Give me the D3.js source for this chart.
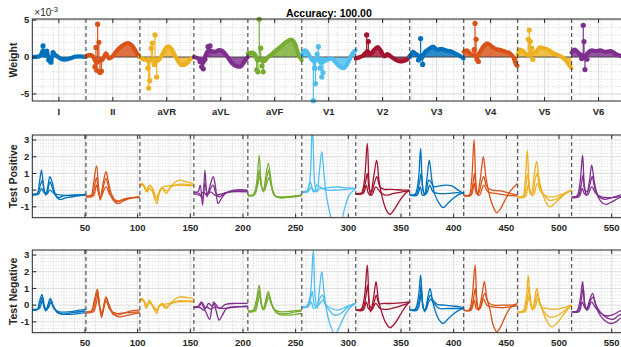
<!DOCTYPE html>
<html>
<head>
<meta charset="utf-8">
<script src="https://cdn.jsdelivr.net/npm/d3@7"></script>
<style>
  html, body { margin: 0; padding: 0; background: #fff; overflow: hidden; }
  svg { display: block; font-family: "Liberation Sans", Arial, Helvetica, sans-serif; }
</style>
</head>
<body>
<svg id="chart" width="621" height="347"></svg>
<script>
// ---- data ----
const leads = ["I", "II", "aVR", "aVL", "aVF", "V1", "V2", "V3", "V4", "V5", "V6"];
const xTicks = [50, 100, 150, 200, 250, 300, 350, 400, 450, 500, 550];
const weightTicks = [-5, 0, 5];
const testTicks = [-1, 0, 1, 2, 3];

// weight (x1e-3): smooth part, [sample offset in lead, value]
const weightCurve = [
  [[0,0],[6,0.05],[8.5,0.3],[10.5,0.9],[12,0.2],[14,0.7],[16,-0.3],[18,-0.6],[20,0.5],[23,0.2],[27,-0.2],[31,-0.35],[36,-0.2],[41,0.05],[46,0.1],[51,0]],
  [[0,0.1],[3,0.3],[6,0.2],[8,-0.3],[10,-0.8],[12,-0.6],[14,-0.5],[16,-0.3],[19,0.5],[22,-0.2],[25,0.05],[29,0.8],[34,1.5],[40,1.9],[44,1.5],[48,0.6],[51,0]],
  [[0,0],[3,-0.3],[6,-0.4],[9,-0.6],[12,-0.3],[15,-0.6],[18,-0.4],[21,0.3],[25,1.3],[27,1.45],[30,1.1],[34,0],[38,-0.9],[40,-1.1],[44,-0.9],[48,-0.3],[51,0]],
  [[0,0],[4,-0.2],[7,-0.6],[9,-0.8],[11,0.2],[14,0.9],[17,0.8],[20,0.7],[24,0.95],[27,0.8],[32,0],[36,-0.8],[40,-1.2],[44,-1.3],[48,-0.6],[51,0]],
  [[0,0.5],[4,0.6],[7,0.3],[9,-0.5],[12,-0.4],[15,-0.6],[17,-0.4],[19,0],[22,0.3],[26,0.8],[32,1.5],[37,2.1],[41,2.35],[45,1.7],[48,0.4],[51,-0.4]],
  [[0,0.3],[3,0.9],[6,0.5],[9,-0.3],[12,-0.6],[15,-0.2],[18,-0.8],[21,-0.6],[24,-0.4],[28,-0.2],[32,-0.7],[36,-1.3],[39,-1.5],[42,-1.2],[45,-0.4],[48,0.5],[51,0.9]],
  [[0,-0.2],[4,0],[8,0.3],[11,0.8],[14,0.4],[17,0.9],[21,1.35],[24,0.8],[27,0.1],[30,0.4],[33,0.1],[37,-0.3],[42,-0.6],[46,-0.5],[49,-0.3],[51,0.1]],
  [[0,0],[3,0.7],[6,0.4],[8,0.2],[11,-0.2],[14,0.6],[17,0.95],[22,1.4],[26,1.0],[30,1.1],[34,0.9],[38,0.8],[43,0.5],[47,0.2],[51,-0.2]],
  [[0,0.7],[3,0.9],[6,0.5],[9,0.3],[12,0.1],[15,0.6],[19,1.5],[22,1.85],[26,1.5],[30,1.1],[35,0.95],[40,0.7],[44,0.5],[47,0],[50,-1.1],[51,-1.2]],
  [[0,0.3],[2,1.0],[5,0.8],[8,0.4],[11,0.3],[14,0.5],[18,0.8],[21,1.3],[25,1.2],[30,0.9],[34,0.5],[38,0.3],[42,0],[46,-0.5],[49,-1.1],[51,-1.5]],
  [[0,0.6],[3,1.0],[6,0.6],[9,0.2],[12,0],[15,0.5],[19,0.9],[23,0.8],[27,0.9],[32,0.7],[37,0.8],[42,0.4],[47,0.1],[51,-0.4]]
];
// weight (x1e-3): separate stems with markers
const weightStems = [
  [[10.5,1.5],[14,0.8],[16,-0.4],[18,-0.7],[20,0.6]],
  [[8.5,-1.3],[9.5,1.3],[10.2,-1.8],[11.1,4.45],[12.3,2.0],[13.3,-2.1],[14.7,-1.9]],
  [[7.5,-1.5],[8.3,-4.2],[9.3,-3.2],[10.8,1.2],[11.8,1.9],[13.5,-1.0],[14.3,3.0],[15.9,-2.7]],
  [[5.8,-0.6],[7.4,-1.3],[8.9,-1.6],[10.5,-0.3],[13.4,1.4],[15.3,1.5]],
  [[8.4,-1.75],[9.6,-2.0],[10.8,5.1],[12.2,1.2],[13.4,-1.2],[14.6,-2.0]],
  [[10.9,-5.9],[12.2,-1.5],[12.9,-3.6],[14.5,0.4],[15.7,1.4],[17.3,-1.5],[18.9,-2.7],[20.1,-2.1]],
  [[8.7,0.4],[10.3,3.0],[11.9,2.1]],
  [[8.3,-0.4],[10.3,2.5],[11.3,0.2],[12.2,-1.0]],
  [[9.8,1.0],[10.7,4.55],[11.7,2.4],[12.6,-0.3],[13.9,-0.6]],
  [[10,2.4],[11,3.65],[12,2.1],[13.3,1.2],[14.3,-0.3]],
  [[8.5,0.3],[9.5,-0.2],[11,4.3],[11.7,2.1],[12.6,-1.7],[14.5,-0.3]]
];

// test positive: three beats per lead, [sample offset, value]
const testPositive = [
  [[[0,-0.25],[5,-0.2],[7,0.4],[9,1.2],[11,0.2],[13,-0.3],[15,0.2],[17,0.8],[19,0.5],[22,-0.2],[25,-0.45],[30,-0.35],[40,-0.3],[51,-0.3]],
   [[0,-0.25],[5,-0.2],[8,0.3],[10,0.6],[12,-0.1],[14,-0.2],[17,0.5],[19,0.2],[22,-0.3],[26,-0.55],[33,-0.45],[42,-0.35],[51,-0.3]],
   [[0,-0.3],[6,-0.25],[9,0.1],[11,-0.1],[14,-0.25],[17,0],[21,-0.2],[28,-0.3],[51,-0.25]]],
  [[[0,-0.35],[5,-0.3],[7,0.3],[10,1.45],[12,0.2],[13.5,-0.6],[16,0.3],[19,1.1],[21,0.6],[24,-0.2],[29,-0.7],[35,-0.55],[43,-0.45],[51,-0.4]],
   [[0,-0.35],[6,-0.3],[8,0.2],[10,0.75],[12,-0.2],[14,-0.5],[16.5,0.2],[19,0.7],[21,0.3],[24,-0.4],[30,-0.8],[37,-0.6],[45,-0.45],[51,-0.45]],
   [[0,-0.4],[7,-0.35],[10,0.3],[12,-0.1],[14,-0.4],[19,0.2],[23,-0.3],[30,-0.65],[40,-0.5],[51,-0.4]]],
  [[[0,0.4],[3,0.35],[6,-0.1],[9,0.3],[11,0.2],[13,-0.3],[16,-0.8],[18,-0.3],[21,0.1],[25,-0.2],[29,0.2],[34,0.5],[38,0.6],[44,0.5],[51,0.4]],
   [[0,0.35],[3,0.3],[6,0],[9,0.25],[12,0.1],[16,-0.6],[18,-0.2],[21,0.15],[25,-0.05],[30,0.2],[36,0.35],[44,0.35],[51,0.3]],
   [[0,0.3],[4,0.25],[7,-0.1],[9,0.1],[12,-0.1],[16,-0.4],[19,0],[22,0.2],[27,0.25],[35,0.3],[51,0.25]]],
  [[[0,-0.1],[4,-0.1],[6,0.3],[8.3,-0.9],[10.5,1.2],[12.5,-0.4],[15,0.2],[18.4,0.8],[20.5,0.2],[23,-0.8],[26,-0.5],[30,-0.2],[38,0],[51,0]],
   [[0,-0.15],[5,-0.2],[8,-0.5],[10.5,0.4],[13,-0.2],[18,0.3],[21,-0.2],[24,-0.4],[30,-0.15],[40,-0.05],[51,-0.05]],
   [[0,-0.2],[6,-0.3],[9,-0.1],[12,-0.3],[16,-0.1],[20,-0.3],[25,-0.25],[35,-0.1],[51,-0.1]]],
  [[[0,-0.3],[5,-0.3],[8,0.3],[10.8,2.1],[12.5,0.5],[14.6,-0.1],[17,0.8],[19.4,1.6],[22,0.6],[25,-0.3],[30,-0.45],[40,-0.4],[51,-0.3]],
   [[0,-0.3],[6,-0.25],[9,0.4],[11,1.2],[13,0.2],[15,0],[17.5,0.6],[19.8,1.2],[22,0.3],[26,-0.35],[34,-0.4],[45,-0.35],[51,-0.3]],
   [[0,-0.35],[6,-0.3],[9,0.2],[11.3,0.8],[13.5,0.1],[15.5,-0.05],[18,0.4],[20.2,0.75],[23,0.1],[27,-0.4],[36,-0.45],[51,-0.35]]],
  [[[0,-0.1],[4,-0.1],[7,0.3],[10,4.0],[12.5,0.3],[14.5,-0.1],[16.5,1.0],[18.9,2.3],[21,1.0],[23,-0.2],[26,-1.2],[29,-2.0],[33,-2.5],[37,-2.0],[41,-1.0],[45,-0.3],[51,0.1]],
   [[0,-0.1],[5,-0.05],[8,0.5],[10,0.1],[12,-0.1],[14,0.3],[17,0.2],[20,0.1],[25,0.15],[32,0.2],[40,0.15],[51,0.1]],
   [[0,-0.1],[6,-0.1],[9,0.2],[11,-0.1],[14,-0.05],[18,0.1],[24,0],[32,0],[42,0.05],[51,0.1]]],
  [[[0,-0.2],[5,-0.2],[8,0.5],[10.9,2.8],[12.5,0.5],[14,-0.3],[17,0.8],[19.8,1.8],[22,0.6],[25,-0.4],[29,-1.2],[32.5,-1.45],[37,-1.1],[42,-0.6],[47,-0.2],[51,0]],
   [[0,-0.2],[6,-0.15],[9,0.4],[11,1.0],[13,0],[15,-0.1],[17.5,0.4],[20,0.8],[23,0.2],[27,0.05],[35,0.05],[45,0],[51,0]],
   [[0,-0.25],[7,-0.2],[10,0.3],[12,-0.2],[15,-0.3],[19,0.2],[23,-0.1],[28,-0.3],[36,-0.2],[44,-0.1],[51,-0.05]]],
  [[[0,-0.3],[5,-0.25],[8,0.5],[10.3,2.5],[12,0.3],[14,-0.3],[16.5,0.8],[18.5,1.8],[21,0.6],[24,-0.3],[28,-0.8],[31.8,-1.05],[36,-0.8],[42,-0.45],[47,-0.25],[51,-0.2]],
   [[0,-0.3],[6,-0.25],[9,0.4],[11,1.0],[13,-0.1],[15,-0.2],[18,0.6],[20,0.5],[23,0.2],[28,0.25],[34,0.3],[40,0.25],[46,0],[51,-0.2]],
   [[0,-0.3],[7,-0.3],[10,0.2],[12,-0.3],[16,-0.2],[19,0.3],[22,-0.1],[27,-0.2],[36,-0.2],[45,-0.15],[51,-0.2]]],
  [[[0,-0.3],[5,-0.3],[7.5,0.6],[9.8,3.0],[11.5,0.5],[13,-0.3],[16,0.8],[18.6,2.0],[21,0.8],[24,-0.2],[28,-1.0],[31.3,-1.35],[35,-1.1],[40,-0.5],[45,0],[51,0.4]],
   [[0,-0.3],[6,-0.3],[8.5,0.3],[10.3,1.0],[12,0],[14,-0.2],[17,0.5],[19,0.8],[22,0.2],[27,0],[35,-0.05],[44,-0.2],[51,-0.3]],
   [[0,-0.35],[7,-0.3],[10,0.4],[12,-0.2],[15,-0.3],[19,0.3],[23,-0.1],[30,-0.2],[40,-0.3],[51,-0.35]]],
  [[[0,-0.4],[5,-0.35],[7,0.5],[9.1,2.4],[11,0.3],[13,-0.3],[15.5,0.8],[18,1.7],[20.5,0.6],[24,-0.3],[28,-0.85],[30.7,-1.0],[35,-0.8],[41,-0.45],[46,-0.15],[51,0]],
   [[0,-0.4],[6,-0.35],[8,0.4],[9.6,1.0],[11.5,0],[14,-0.2],[16.5,0.6],[18.5,1.0],[21,0.2],[25,-0.3],[30,-0.6],[36,-0.55],[43,-0.3],[51,0]],
   [[0,-0.45],[7,-0.4],[10,0.3],[12,-0.2],[15,-0.3],[18.5,0.4],[22,-0.1],[27,-0.35],[34,-0.4],[44,-0.2],[51,0]]],
  [[[0,-0.4],[5,-0.35],[8,0.5],[10.4,2.1],[12,0.3],[14,-0.3],[17,0.6],[19,1.5],[21.5,0.5],[25,-0.4],[29,-0.75],[33,-0.85],[38,-0.7],[44,-0.5],[51,-0.3]],
   [[0,-0.4],[6,-0.35],[9,0.3],[10.8,0.9],[12.5,0],[15,-0.1],[17.5,0.4],[19.5,0.8],[22,0.1],[26,-0.4],[31,-0.55],[38,-0.45],[46,-0.3],[51,-0.2]],
   [[0,-0.45],[7,-0.4],[10,0.1],[12,-0.2],[15,-0.3],[19,0.2],[23,-0.2],[28,-0.4],[36,-0.45],[45,-0.4],[51,-0.35]]]
];

// test negative: three beats per lead
const testNegative = [
  [[[0,-0.3],[5,-0.25],[7,0.2],[9.5,0.65],[11,0],[13,-0.35],[15,0],[17.4,0.4],[20,0],[24,-0.45],[30,-0.55],[38,-0.45],[51,-0.35]],
   [[0,-0.3],[6,-0.25],[8,0.2],[10,0.5],[12,-0.1],[14,-0.3],[16,0],[18,0.3],[21,-0.2],[26,-0.4],[35,-0.4],[45,-0.3],[51,-0.25]],
   [[0,-0.25],[7,-0.2],[10,0.3],[12,-0.15],[15,-0.2],[18,0.15],[21,-0.2],[27,-0.5],[36,-0.55],[44,-0.5],[51,-0.45]]],
  [[[0,-0.4],[5,-0.35],[8,0.3],[10.8,0.95],[12.5,0.1],[14.9,-0.75],[17,0],[19,0.5],[21.5,0.1],[25,-0.4],[29,-0.6],[35,-0.5],[43,-0.35],[51,-0.3]],
   [[0,-0.4],[6,-0.35],[9,0.3],[11,0.8],[13,-0.1],[15,-0.6],[17.5,0.1],[19.5,0.4],[22,-0.1],[26,-0.55],[31,-0.7],[40,-0.6],[51,-0.45]],
   [[0,-0.45],[7,-0.4],[10,0.2],[11.5,0.6],[13.5,-0.2],[15.5,-0.5],[19,0.25],[23,-0.3],[29,-0.5],[38,-0.45],[51,-0.4]]],
  [[[0,0.4],[3,0.35],[6,-0.2],[9,0.3],[11,0.1],[13,-0.2],[16,-0.5],[18,-0.1],[21,0],[25,-0.2],[29,0.1],[34,0.4],[38,0.5],[45,0.45],[51,0.4]],
   [[0,0.35],[3,0.3],[6,-0.1],[9,0.2],[12,0],[16,-0.35],[18,-0.1],[21,0.1],[25,-0.1],[30,0.1],[36,0.25],[44,0.25],[51,0.25]],
   [[0,0.3],[4,0.25],[7,0],[9,0.15],[12,-0.05],[16,-0.25],[19,0],[23,0.05],[28,0.1],[36,0.2],[51,0.2]]],
  [[[0,-0.1],[4,-0.1],[7,0.2],[9,-0.1],[12,-0.5],[15,-0.85],[17,-0.2],[19,0.2],[21,-0.3],[24,-0.9],[27,-0.6],[31,-0.2],[38,-0.1],[51,-0.1]],
   [[0,-0.1],[5,-0.05],[8,0.15],[11,-0.2],[14,0.1],[17,-0.05],[20,0.1],[24,-0.2],[30,0.05],[40,0.1],[51,0.1]],
   [[0,-0.15],[6,-0.15],[9,-0.3],[12,-0.1],[16,-0.25],[20,-0.1],[26,-0.2],[35,-0.15],[51,-0.05]]],
  [[[0,-0.35],[5,-0.3],[8,0.3],[10.8,1.2],[12.5,0.2],[14.5,-0.3],[17,0.3],[19.4,0.8],[22,0.2],[25,-0.3],[29,-0.5],[37,-0.5],[45,-0.4],[51,-0.35]],
   [[0,-0.35],[6,-0.3],[9,0.3],[11,0.9],[13,0],[15,-0.2],[17.5,0.3],[19.8,0.65],[22,0.1],[26,-0.3],[32,-0.4],[42,-0.35],[51,-0.3]],
   [[0,-0.4],[7,-0.35],[9.5,0.2],[11.5,0.6],[13.5,-0.1],[15.5,-0.25],[18,0.2],[20.5,0.5],[23,0],[28,-0.5],[35,-0.6],[45,-0.55],[51,-0.5]]],
  [[[0,-0.1],[4,-0.1],[7.5,0.4],[10.9,3.3],[12.5,0.6],[14.5,-0.2],[16.5,0.8],[18.9,2.0],[21,0.8],[23.5,-0.3],[27,-1.2],[31.5,-1.75],[35,-1.4],[40,-0.7],[45,-0.2],[51,0.1]],
   [[0,-0.1],[5,-0.1],[8,0.3],[10,0.8],[12,0],[14,-0.1],[17,0.4],[19.5,0.6],[22,0.1],[26,-0.3],[31,-0.6],[37,-0.5],[44,-0.1],[51,0.1]],
   [[0,-0.15],[6,-0.1],[9,0.2],[11,-0.2],[14,-0.1],[17,0.1],[20,0.3],[23,0],[28,-0.2],[34,-0.3],[42,-0.1],[51,0.1]]],
  [[[0,-0.3],[5,-0.25],[8,0.4],[10.9,2.4],[12.5,0.3],[14,-0.4],[17,0.5],[19.2,1.4],[21.5,0.3],[24,-0.3],[28,-1.0],[32.5,-1.35],[37,-1.1],[42,-0.6],[47,-0.1],[51,0.2]],
   [[0,-0.3],[6,-0.25],[9,0.3],[11.2,1.2],[13,0],[15,-0.2],[17.5,0.2],[19.5,0.6],[22,0.1],[27,0.1],[35,0.1],[45,0.15],[51,0.2]],
   [[0,-0.3],[7,-0.3],[10,0.2],[12,-0.2],[15,-0.3],[19,0.1],[23,-0.2],[30,-0.25],[40,-0.1],[51,0.15]]],
  [[[0,-0.3],[5,-0.25],[8,0.4],[10.3,1.8],[12,0.2],[14,-0.4],[17,0.4],[19.2,1.0],[21.5,0.3],[24,-0.3],[28,-0.9],[31.8,-1.1],[36,-0.85],[42,-0.5],[47,-0.3],[51,-0.2]],
   [[0,-0.3],[6,-0.25],[9,0.3],[10.8,1.2],[12.5,-0.1],[14.5,-0.3],[17.5,0.3],[19.5,0.6],[22,0.3],[26,0.05],[33,0],[40,-0.05],[47,-0.1],[51,-0.15]],
   [[0,-0.3],[7,-0.3],[9.5,0.2],[11.3,0.8],[13,-0.2],[15,-0.3],[18,0.2],[20,0.35],[23,0.1],[28,-0.2],[36,-0.2],[45,-0.2],[51,-0.2]]],
  [[[0,-0.3],[5,-0.3],[8,0.5],[10.7,2.4],[12.5,0.3],[14,-0.3],[17,0.5],[19.6,1.4],[22,0.4],[25,-0.3],[28,-1.2],[31.3,-1.6],[35,-1.3],[40,-0.6],[45,-0.1],[51,0.1]],
   [[0,-0.3],[6,-0.3],[9,0.3],[11,1.0],[13,-0.1],[15,-0.2],[17.5,0.3],[20,0.7],[23,0.2],[28,0],[36,0],[44,0],[51,0]],
   [[0,-0.3],[7,-0.3],[10,0.3],[12,-0.2],[15,-0.25],[19,0.35],[22,0],[27,-0.1],[35,-0.15],[44,-0.1],[51,-0.05]]],
  [[[0,-0.4],[5,-0.35],[8,0.4],[10.1,1.75],[12,0.2],[14,-0.3],[16,0.3],[18,1.0],[20.5,0.3],[24,-0.4],[28,-1.0],[32.3,-1.3],[37,-1.1],[43,-0.6],[47,-0.3],[51,0]],
   [[0,-0.4],[6,-0.35],[9,0.3],[10.8,1.1],[12.5,0],[14.5,-0.2],[17,0.3],[18.7,0.7],[21,0.1],[25,-0.4],[30,-0.7],[37,-0.65],[44,-0.35],[51,0]],
   [[0,-0.4],[7,-0.4],[9.5,0.2],[11.5,0.6],[13.5,-0.1],[16,-0.2],[19,0.4],[22,-0.1],[27,-0.2],[35,-0.25],[44,-0.15],[51,0]]],
  [[[0,-0.4],[5,-0.35],[8,0.3],[10.4,1.4],[12,0.2],[14,-0.3],[17,0.3],[19.9,0.7],[22,0.2],[26,-0.5],[31,-0.9],[37,-1.1],[42,-1.0],[46,-0.8],[51,-0.7]],
   [[0,-0.4],[6,-0.35],[9,0.3],[11,1.0],[13,-0.1],[15,-0.2],[18,0.3],[20.5,0.5],[23,0],[27,-0.4],[33,-0.75],[39,-0.85],[45,-0.6],[51,-0.5]],
   [[0,-0.4],[7,-0.4],[10,0.2],[12,-0.1],[15,-0.3],[19,0.2],[22,-0.1],[28,-0.5],[34,-0.65],[40,-0.55],[46,-0.35],[51,-0.3]]]
];

// MATLAB default colour order
const palette = ["#0072BD", "#D95319", "#EDB120", "#7E2F8E", "#77AC30", "#4DBEEE", "#A2142F"];
const colorOf = i => palette[i % palette.length];

// ---- layout ----
const svg = d3.select("#chart");
const axisColor = "#262626";
const x = d3.scaleLinear().domain([0, 563]).range([32.3, 625.4]);
const segLen = 51.23, segShift = -0.3;
const segX = (k, off) => x(k * segLen + segShift + off);
const boundaries = d3.range(1, leads.length + 1).map(k => k * segLen + segShift);
const leadCenters = leads.map((d, k) => k * segLen + segShift + 25.5);

const panels = [
  { top: 19, bottom: 101, dom: [-5.95, 5.15], label: "Weight" },
  { top: 135, bottom: 217.7, dom: [-1.65, 3.3], label: "Test Positive" },
  { top: 250, bottom: 332.7, dom: [-1.65, 3.3], label: "Test Negative" }
];
panels.forEach(p => { p.y = d3.scaleLinear().domain(p.dom).range([p.bottom, p.top]); });

const [x0, x1] = x.range();

// clip paths
const defs = svg.append("defs");
panels.forEach((p, i) => {
  defs.append("clipPath").attr("id", "clip" + i)
    .append("rect").attr("x", x0).attr("y", p.top).attr("width", x1 - x0).attr("height", p.bottom - p.top);
});

function drawGrid(g, p, xMajor, xMinor, yMajor, yMinor) {
  g.selectAll(".xm").data(xMinor).join("line")
    .attr("x1", d => x(d)).attr("x2", d => x(d)).attr("y1", p.top).attr("y2", p.bottom)
    .attr("stroke", "#c4c4c4").attr("stroke-width", 0.7).attr("stroke-dasharray", "1,1.6");
  g.selectAll(".ym").data(yMinor).join("line")
    .attr("x1", x0).attr("x2", x1).attr("y1", d => p.y(d)).attr("y2", d => p.y(d))
    .attr("stroke", "#c4c4c4").attr("stroke-width", 0.7).attr("stroke-dasharray", "1,1.6");
  g.selectAll(".xM").data(xMajor).join("line")
    .attr("x1", d => x(d)).attr("x2", d => x(d)).attr("y1", p.top).attr("y2", p.bottom)
    .attr("stroke", "#dcdcdc").attr("stroke-width", 1);
  g.selectAll(".yM").data(yMajor).join("line")
    .attr("x1", x0).attr("x2", x1).attr("y1", d => p.y(d)).attr("y2", d => p.y(d))
    .attr("stroke", "#dcdcdc").attr("stroke-width", 1);
}

function drawSeparators(g, p) {
  g.selectAll(".sep").data(boundaries).join("line")
    .attr("x1", d => x(d)).attr("x2", d => x(d)).attr("y1", p.top).attr("y2", p.bottom)
    .attr("stroke", "#333").attr("stroke-width", 1).attr("stroke-dasharray", "4,3");
}

function drawBox(g, p, xTickVals, yTickVals) {
  const t = 4;
  g.append("rect").attr("x", x0).attr("y", p.top).attr("width", x1 - x0).attr("height", p.bottom - p.top)
    .attr("fill", "none").attr("stroke", axisColor).attr("stroke-width", 1);
  xTickVals.forEach(v => {
    g.append("line").attr("x1", x(v)).attr("x2", x(v)).attr("y1", p.bottom).attr("y2", p.bottom - t).attr("stroke", axisColor);
    g.append("line").attr("x1", x(v)).attr("x2", x(v)).attr("y1", p.top).attr("y2", p.top + t).attr("stroke", axisColor);
  });
  yTickVals.forEach(v => {
    g.append("line").attr("x1", x0).attr("x2", x0 + t).attr("y1", p.y(v)).attr("y2", p.y(v)).attr("stroke", axisColor);
    g.append("line").attr("x1", x1).attr("x2", x1 - t).attr("y1", p.y(v)).attr("y2", p.y(v)).attr("stroke", axisColor);
  });
  g.selectAll(".yl").data(yTickVals).join("text")
    .attr("x", x0 - 3).attr("y", d => p.y(d)).attr("dy", "0.35em")
    .attr("text-anchor", "end").attr("font-size", 9.5).attr("font-weight", "bold").attr("fill", axisColor)
    .text(d => d);
  const cy = (p.top + p.bottom) / 2;
  g.append("text").attr("transform", `translate(13,${cy}) rotate(-90)`).attr("dy", "0.35em")
    .attr("text-anchor", "middle").attr("font-size", 10.5).attr("font-weight", "bold").attr("fill", axisColor)
    .text(p.label);
}

// ---- panel 1: weights ----
{
  const p = panels[0];
  const g = svg.append("g");
  drawGrid(g.append("g"), p, leadCenters, d3.range(10, 563, 10), weightTicks, d3.range(-5, 6, 1));

  const data = g.append("g").attr("clip-path", "url(#clip0)");
  const area = d3.area().x(d => d.px).y0(p.y(0)).y1(d => p.y(d.v)).curve(d3.curveMonotoneX);
  const line = d3.line().x(d => d.px).y(d => p.y(d.v)).curve(d3.curveMonotoneX);
  weightCurve.forEach((pts, k) => {
    const rows = pts.map(([o, v]) => ({ px: segX(k, o), v }));
    data.append("path").attr("d", area(rows)).attr("fill", colorOf(k)).attr("fill-opacity", 0.82);
  });
  // stem baseline
  data.append("line").attr("x1", x0).attr("x2", x1).attr("y1", p.y(0)).attr("y2", p.y(0))
    .attr("stroke", "#3a3a3a").attr("stroke-width", 0.8);
  weightCurve.forEach((pts, k) => {
    const rows = pts.map(([o, v]) => ({ px: segX(k, o), v }));
    data.append("path").attr("d", line(rows)).attr("fill", "none")
      .attr("stroke", colorOf(k)).attr("stroke-width", 4.2).attr("stroke-linecap", "round").attr("stroke-linejoin", "round");
  });
  const stems = g.append("g");
  weightStems.forEach((pts, k) => {
    pts.forEach(([o, v]) => {
      stems.append("line").attr("x1", segX(k, o)).attr("x2", segX(k, o)).attr("y1", p.y(0)).attr("y2", p.y(v))
        .attr("stroke", colorOf(k)).attr("stroke-width", 1.2);
    });
    pts.forEach(([o, v]) => {
      stems.append("circle").attr("cx", segX(k, o)).attr("cy", p.y(v)).attr("r", 2.6).attr("fill", colorOf(k));
    });
  });
  drawSeparators(g.append("g"), p);
  drawBox(g.append("g"), p, leadCenters, weightTicks);

  g.selectAll(".lead").data(leads).join("text")
    .attr("x", (d, k) => x(leadCenters[k])).attr("y", 115)
    .attr("text-anchor", "middle").attr("font-size", 9.5).attr("font-weight", "bold").attr("fill", axisColor)
    .text(d => d);

  const ex = g.append("text").attr("x", x0 + 2).attr("y", 16).attr("font-size", 10).attr("fill", axisColor);
  ex.append("tspan").text("\u00d710");
  ex.append("tspan").attr("dy", -4).attr("font-size", 7.5).text("-3");

  svg.append("text").attr("x", (x0 + x1) / 2).attr("y", 16.5).attr("text-anchor", "middle")
    .attr("font-size", 10.5).attr("font-weight", "bold").attr("fill", "#000").text("Accuracy: 100.00");
}

// ---- panels 2 and 3: test beats ----
[testPositive, testNegative].forEach((set, i) => {
  const p = panels[i + 1];
  const g = svg.append("g");
  const minorX = d3.range(10, 563, 10).filter(v => v % 50 !== 0);
  const minorY = d3.range(-1.6, 3.3, 0.2).map(v => +v.toFixed(1)).filter(v => Math.abs(v - Math.round(v)) > 0.01);
  drawGrid(g.append("g"), p, xTicks, minorX, testTicks, minorY);

  const data = g.append("g").attr("clip-path", `url(#clip${i + 1})`);
  const line = d3.line().x(d => d.px).y(d => p.y(d.v)).curve(d3.curveCatmullRom.alpha(0.5));
  set.forEach((beats, k) => {
    beats.forEach(pts => {
      const rows = pts.map(([o, v]) => ({ px: segX(k, o), v }));
      data.append("path").attr("d", line(rows)).attr("fill", "none")
        .attr("stroke", colorOf(k)).attr("stroke-width", 1.3).attr("stroke-linejoin", "round");
    });
  });
  drawSeparators(g.append("g"), p);
  drawBox(g.append("g"), p, xTicks, testTicks);

  g.selectAll(".xl").data(xTicks).join("text")
    .attr("x", d => x(d)).attr("y", p.bottom + 13.5)
    .attr("text-anchor", "middle").attr("font-size", 9.5).attr("font-weight", "bold").attr("fill", axisColor)
    .text(d => d);
});
</script>
</body>
</html>
